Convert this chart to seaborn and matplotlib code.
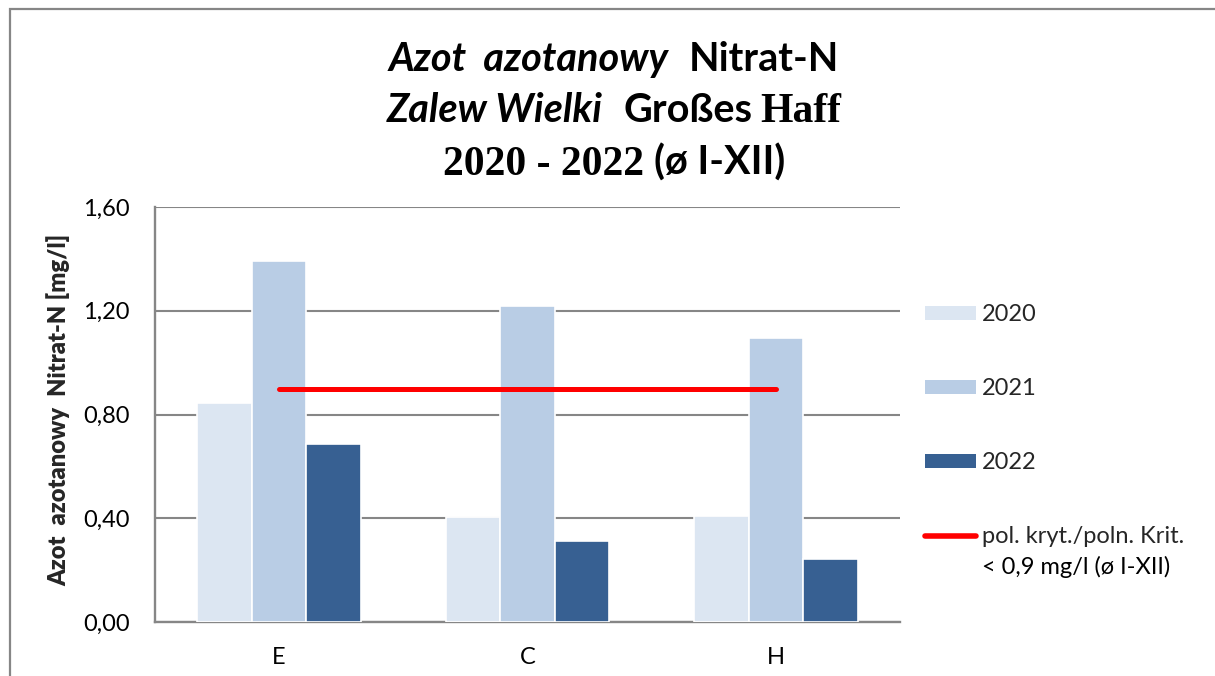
import matplotlib
matplotlib.use("Agg")
import matplotlib.pyplot as plt
import seaborn as sns
import pandas as pd
import numpy as np
from matplotlib.patches import Rectangle, Patch
from matplotlib.lines import Line2D

# ---------------- data ----------------
stations = ["E", "C", "H"]
years = ["2020", "2021", "2022"]
values_2020 = [0.843, 0.406, 0.410]
values_2021 = [1.391, 1.217, 1.094]
values_2022 = [0.685, 0.313, 0.244]
threshold = 0.9
ytick_values = [0.0, 0.4, 0.8, 1.2, 1.6]
ytick_labels = ["0,00", "0,40", "0,80", "1,20", "1,60"]
ylabel_text = "Azot  azotanowy  Nitrat-N [mg/l]"
threshold_label_1 = "pol. kryt./poln. Krit."
threshold_label_2 = "< 0,9 mg/l (ø I-XII)"

bar_colors = ["#DCE6F2", "#B9CDE5", "#376092"]
line_color = "#FF0000"
grid_color = "#868686"

W, H = 1215, 676

sns.set_theme(style="white")
plt.rcParams['font.family'] = ['Lato', 'DejaVu Sans']

df = pd.DataFrame({
    "station": stations * 3,
    "year": np.repeat(years, len(stations)),
    "value": values_2020 + values_2021 + values_2022,
})

fig = plt.figure(figsize=(W / 100, H / 100), dpi=100)
fig.patch.set_facecolor("white")
ax = fig.add_axes([155 / W, 1 - 622 / H, 745 / W, 415 / H])

sns.barplot(data=df, x="station", y="value", hue="year", order=stations,
            hue_order=years, palette=bar_colors, saturation=1, width=0.66,
            edgecolor="white", linewidth=1.2, legend=False, ax=ax, zorder=3,
            errorbar=None)

ax.plot(np.arange(len(stations)), [threshold] * len(stations), color=line_color,
        lw=3.6, solid_capstyle="round", zorder=4)

ax.set_xlim(-0.5, len(stations) - 0.5)
ax.set_ylim(0, 1.6)
ax.set_yticks(ytick_values)
ax.set_yticklabels(ytick_labels)
ax.set_xlabel("")
ax.set_ylabel(ylabel_text, fontsize=17, fontweight="heavy")
ax.yaxis.set_label_coords(-0.114, 0.51)

ax.set_axisbelow(True)
ax.yaxis.grid(True, color=grid_color, lw=1.5)
ax.xaxis.grid(False)
for s in ["top", "right"]:
    ax.spines[s].set_visible(False)
for s in ["left", "bottom"]:
    ax.spines[s].set_color(grid_color)
    ax.spines[s].set_linewidth(1.7)
ax.tick_params(axis="y", length=0, pad=18, labelsize=17, colors="black")
ax.tick_params(axis="x", length=0, pad=18, labelsize=17, colors="black")

# legend
handles = [Patch(facecolor=c, edgecolor="none") for c in bar_colors]
handles.append(Line2D([0], [0], color=line_color, lw=4, solid_capstyle="round"))
labels = years + [threshold_label_1]
leg = fig.legend(handles, labels, loc="upper left", bbox_to_anchor=(925 / W, 1 - 304 / H),
                 frameon=False, fontsize=17, handlelength=2.15, handleheight=0.55,
                 handletextpad=0.25, labelspacing=2.25, borderpad=0, borderaxespad=0)

# border
fig.add_artist(Rectangle((10 / W, -0.2), 1.5, 1.2 - 9 / H, transform=fig.transFigure,
                         fill=False, edgecolor=grid_color, lw=1.6))

# title built from mixed-font segments
sans_bi = dict(family=["Lato", "DejaVu Sans"], fontweight="bold", fontstyle="italic", fontsize=28.5)
sans_b = dict(family=["Lato", "DejaVu Sans"], fontweight="bold", fontsize=28.5)
serif_b = dict(family=["Liberation Serif", "DejaVu Serif"], fontweight="bold", fontsize=30)

title_lines = [
    ([("Azot  azotanowy", sans_bi), ("Nitrat-N", sans_b)], [20], 71),
    ([("Zalew Wielki", sans_bi), ("Großes", sans_b), ("Haff", serif_b)], [20, 8], 122),
    ([("2020 - 2022", serif_b), ("(ø I-XII)", sans_b)], [10], 175),
]

fig.canvas.draw()
renderer = fig.canvas.get_renderer()
center_x = 614
for segs, gaps, base in title_lines:
    texts = [fig.text(0, 1 - base / H, s, ha="left", va="baseline", color="black", **kw)
             for s, kw in segs]
    widths = [t.get_window_extent(renderer).width for t in texts]
    total = sum(widths) + sum(gaps)
    x = center_x - total / 2
    for i, t in enumerate(texts):
        t.set_x(x / W)
        x += widths[i] + (gaps[i] if i < len(gaps) else 0)

# second line of the threshold legend entry, placed under the first
last = leg.get_texts()[-1]
bb = last.get_window_extent(renderer)
fig.text(bb.x0 / W, (bb.y0 - 9) / H, threshold_label_2, ha="left", va="top",
         fontsize=17, color="black")

fig.savefig("out.png", dpi=100, facecolor="white")
